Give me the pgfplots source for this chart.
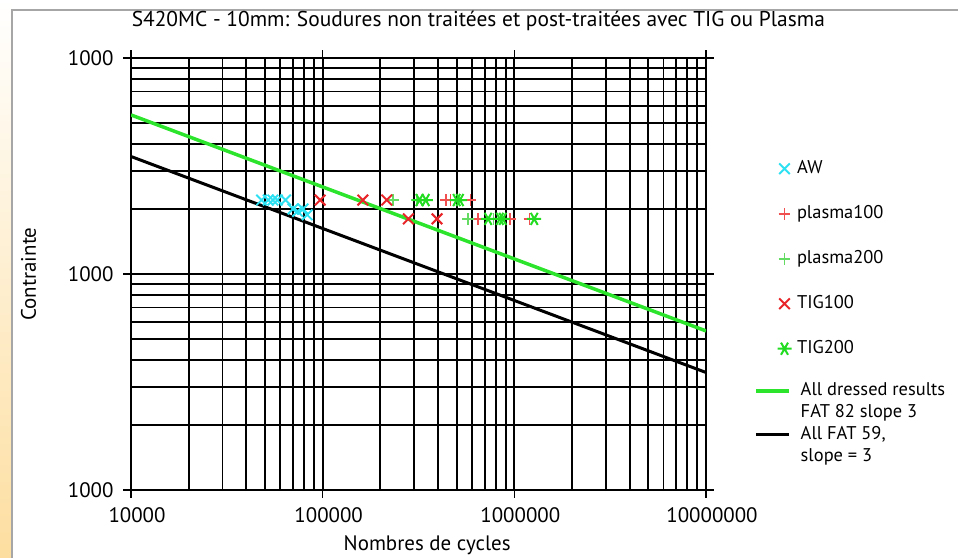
\documentclass[border=0pt]{standalone}
\usepackage{fontspec}
\setmainfont{PT Sans}
\usepackage{pgfplots}
\pgfplotsset{compat=1.18}
\definecolor{awc}{RGB}{45,225,242}
\definecolor{tigred}{RGB}{232,38,42}
\definecolor{plred}{RGB}{240,80,80}
\definecolor{plgreen}{RGB}{100,220,100}
\definecolor{tiggreen}{RGB}{34,220,34}
\definecolor{fatgreen}{RGB}{45,228,45}
\pgfplotsset{
  longline/.style={legend image code/.code={\draw[##1] (0bp,0bp) -- (33bp,0bp);}},
  onemark/.style={legend image code/.code={\draw[##1] plot coordinates {(0bp,0bp)};}},
}
\begin{document}
\begin{tikzpicture}
\useasboundingbox (0,0) rectangle (958bp,558bp);
\shade[top color=white, bottom color={rgb,255:red,253;green,222;blue,160}] (0,0) rectangle (12bp,558bp);
\draw[gray!70, line width=1.5bp] (12bp,0) -- (12bp,548bp) -- (958bp,548bp);
\begin{axis}[
  xmode=log, ymode=log,
  at={(131bp,68bp)}, anchor=south west,
  scale only axis, width=575bp, height=432bp,
  xmin=1e4, xmax=1e7, ymin=10, ymax=1000,
  grid=both,
  major grid style={black, line width=1.9bp},
  minor grid style={black, line width=1.9bp},
  axis line style={black, line width=2bp},
  xtick={1e4,1e5,1e6,1e7}, xticklabels={10000,100000,1000000,10000000},
  ytick={10,100,1000}, yticklabels={1000,1000,1000},
  tick align=outside, major tick length=8bp, minor tick length=0pt,
  tick style={black, line width=1.5bp},
  ticklabel style={font=\fontsize{21}{24}\selectfont},
  xticklabel style={xshift=6bp, yshift=-6bp},
  yticklabel style={xshift=-6bp},
  /pgf/number format/assume math mode=true,
  xlabel={Nombres de cycles}, ylabel={Contrainte},
  label style={font=\fontsize{21}{24}\selectfont},
  xlabel style={at={(axis description cs:0.515,-0.127)}, anchor=center},
  ylabel style={at={(axis description cs:-0.178,0.5)}, anchor=center},
  title={S420MC - 10mm: Soudures non traitées et post-traitées avec TIG ou Plasma},
  title style={at={(axis description cs:0.604,1.058)}, anchor=base, font=\fontsize{21.5}{24}\selectfont},
  legend cell align=left,
  legend style={draw=none, fill=none, inner sep=0pt, at={(axis description cs:1.124,0.765)}, anchor=north west,
    row sep=27bp, column sep=5.5bp, font=\fontsize{18.5}{22}\selectfont,
    nodes={inner sep=0pt, text height=14bp, text depth=4bp}},
]
\addplot[fatgreen, line width=3.5bp, no marks, forget plot] coordinates {(1e4,545)(1e7,54.5)};
\addplot[black, line width=3bp, no marks, forget plot] coordinates {(1e4,350)(1e7,35)};
\addplot[only marks, mark=x, mark size=7.5bp, mark options={awc, line width=1.9bp}, onemark] coordinates {
(48000,220)(52000,220)(55000,220)(58000,220)(64000,220)(70000,200)(74000,195)(79000,200)(83000,188)};
\addlegendentry{AW}
\addplot[only marks, mark=+, mark size=5.8bp, mark options={plred, line width=1.6bp}, onemark] coordinates {
(440000,220)(465000,220)(590000,220)(645000,180)(950000,180)(1200000,180)};
\addlegendentry{plasma100}
\addplot[only marks, mark=+, mark size=5.8bp, mark options={plgreen, line width=1.6bp}, onemark] coordinates {
(233000,220)(310000,220)(575000,180)(780000,180)};
\addlegendentry{plasma200}
\addplot[only marks, mark=x, mark size=7.5bp, mark options={tigred, line width=2bp}, onemark] coordinates {
(97000,220)(162000,220)(216000,220)(280000,180)(395000,180)};
\addlegendentry{TIG100}
\addplot[only marks, mark=asterisk, mark size=7bp, mark options={tiggreen, line width=2bp, rotate=90}, onemark] coordinates {
(320000,220)(345000,220)(500000,220)(520000,220)(730000,180)(840000,180)(870000,180)(1270000,180)};
\addlegendentry{TIG200}
\end{axis}
\begin{axis}[
  xmode=log, ymode=log,
  at={(131bp,68bp)}, anchor=south west,
  scale only axis, width=575bp, height=432bp,
  xmin=1e4, xmax=1e7, ymin=10, ymax=1000,
  hide axis,
  legend cell align=left,
  legend style={draw=none, fill=none, inner sep=0pt, at={(axis description cs:1.0835,0.251)}, anchor=north west,
    row sep=4bp, column sep=10bp, font=\fontsize{18.5}{22}\selectfont,
    nodes={inner sep=0pt, text height=14bp, text depth=4bp}},
]
\addplot[draw=none, forget plot] coordinates {(1e5,100)};
\addlegendimage{fatgreen, line width=3.5bp, longline}
\addlegendentry{All dressed results}
\addlegendimage{empty legend}
\addlegendentry{FAT 82 slope 3}
\addlegendimage{black, line width=3bp, longline}
\addlegendentry{All FAT 59,}
\addlegendimage{empty legend}
\addlegendentry{slope = 3}
\end{axis}
\end{tikzpicture}
\end{document}
